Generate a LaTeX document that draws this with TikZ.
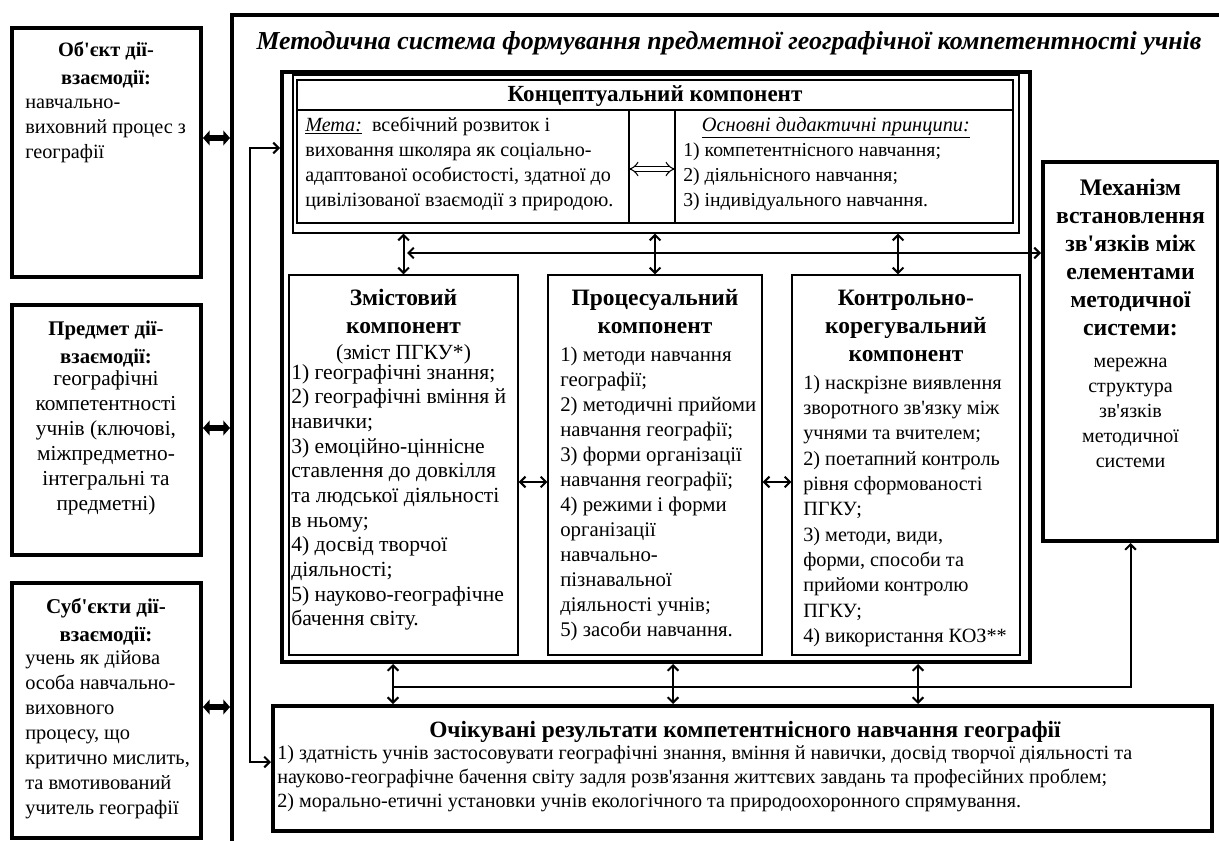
\documentclass[tikz,border=0pt]{standalone}
\usepackage{fontspec}
\setmainfont{Liberation Serif}
\usetikzlibrary{arrows.meta,fit}
\newcommand{\apo}{\textquotesingle}
\begin{document}
\begin{tikzpicture}[x=0.75pt,y=-0.75pt,
  thickbox/.style={draw,line width=3pt,inner sep=0pt},
  thinbox/.style={draw,line width=1pt,inner sep=0pt},
  bodyt/.style={font=\fontsize{#1}{18.75}\selectfont,inner sep=0pt},
  bodyt/.default=15.1,
  headt/.style={font=\fontsize{#1}{21}\selectfont\bfseries,inner sep=0pt},
  headt/.default=17.6,
  titlet/.style={font=\fontsize{19.4}{24}\selectfont\bfseries\itshape,inner sep=0pt},
  conn/.style={line width=1.5pt,{Straight Barb[length=4pt,width=8pt]}-{Straight Barb[length=4pt,width=8pt]}},
  conn1/.style={line width=1.5pt,-{Straight Barb[length=4pt,width=8pt]}},
  fat/.style={line width=5pt,{Triangle[length=5pt,width=11pt]}-{Triangle[length=5pt,width=11pt]}},
  dblarrow/.style={double,double distance=3pt,line width=0.8pt,{Implies}-{Implies}},
]
\useasboundingbox (0,0) rectangle (1219,841);

% outer frame
\draw[line width=3.5pt] (232,841) -- (232,15) -- (1219,15);
\node[titlet,anchor=base] (title) at (729,50) {Методична система формування предметної географічної компетентності учнів};

% left boxes
\node[thickbox,fit={(12,28) (201,277)}] (obj) {};
\node[headt=15.3,anchor=north,align=center] (objh) at (106,37) {\strut Об\apo єкт дії-\\взаємодії:};
\node[bodyt=15.2,anchor=north west,align=left] (objb) at (25,90.5) {\strut навчально-\\виховний процес з\\географії};

\node[thickbox,fit={(12,305) (201,555)}] (sub) {};
\node[headt=15.6,anchor=north,align=center] (subh) at (106,315.5) {\strut Предмет дії-\\взаємодії:};
\node[bodyt=16,anchor=north,align=center] (subb) at (106,367.5) {\strut географічні\\компетентності\\учнів (ключові,\\міжпредметно-\\інтегральні та\\предметні)};

\node[thickbox,fit={(12,583) (201,838)}] (sbj) {};
\node[headt=15.8,anchor=north,align=center] (sbjh) at (106,593.5) {\strut Суб\apo єкти дії-\\взаємодії:};
\node[bodyt=15.3,anchor=north west,align=left] (sbjb) at (25,646.5) {\strut учень як дійова\\особа навчально-\\виховного\\процесу, що\\критично мислить,\\та вмотивований\\учитель географії};

\coordinate (fa1) at (230,138);
\coordinate (fa2) at (230,428);
\coordinate (fa3) at (230,707);
\draw[fat] (obj.east |- fa1) -- (fa1);
\draw[fat] (sub.east |- fa2) -- (fa2);
\draw[fat] (sbj.east |- fa3) -- (fa3);

% inner frame
\node[thickbox,fit={(282,72) (1030,662)}] (ifr) {};
\node[draw,line width=1pt,inner sep=0pt,fit={(293,75) (1019,233)}] (cfr) {};
\node[draw,line width=1pt,inner sep=0pt,fit={(297,80) (1013,223)}] (ctab) {};
\draw[line width=1pt] (ctab.west |- 0,110) -- (ctab.east |- 0,110);
\draw[line width=1pt] (629,110) -- (629,0 |- ctab.south);
\draw[line width=1pt] (675,110) -- (675,0 |- ctab.south);
\node[headt=17.3,anchor=base] (ctitle) at (655,102) {Концептуальний компонент};
\node[bodyt,anchor=north west,align=left] (cgoal) at (305,113.5) {\strut\underline{\textit{Мета:}}\ \ всебічний розвиток і\\виховання школяра як соціально-\\адаптованої особистості, здатної до\\цивілізованої взаємодії з природою.};
\node[bodyt=14.8,anchor=north west,align=left] (cprin) at (683,113.5) {\strut\hspace{14pt}{\fontsize{15.3}{18.75}\selectfont\underline{\textit{Основні дидактичні принципи:}}}\\1) компетентнісного навчання;\\2) діяльнісного навчання;\\3) індивідуального навчання.};
\node[inner sep=0pt,fit={(629,158) (675,180)}] (cmid) {};
\draw[dblarrow] (cmid.west) -- (cmid.east);

% middle boxes
\node[thinbox,fit={(289,275) (518,655)}] (zm) {};
\node[headt,anchor=north,align=center] (zmh) at (403.5,285.4) {\strut Змістовий\\компонент};
\node[bodyt=16.2,anchor=base] (zms) at (403.5,359) {(зміст ПГКУ*)};
\node[bodyt=16.2,anchor=north west,align=left,font=\fontsize{16.2}{18.5}\selectfont] (zmb) at (291,361.5) {\strut 1) географічні знання;\\2) географічні вміння й\\навички;\\3) емоційно-ціннісне\\ставлення до довкілля\\та людської діяльності\\в ньому;\\4) досвід творчої\\діяльності;\\5) науково-географічне\\бачення світу.};

\node[thinbox,fit={(548,275) (762,655)}] (pr) {};
\node[headt,anchor=north,align=center] (prh) at (655,285.4) {\strut Процесуальний\\компонент};
\node[bodyt=15.6,anchor=north west,align=left] (prb) at (560,343.5) {\strut 1) методи навчання\\географії;\\2) методичні прийоми\\навчання географії;\\3) форми організації\\навчання географії;\\4) режими і форми\\організації\\навчально-\\пізнавальної\\діяльності учнів;\\5) засоби навчання.};

\node[thinbox,fit={(792,275) (1020,655)}] (kk) {};
\node[headt,anchor=north,align=center] (kkh) at (906,285.4) {\strut Контрольно-\\корегувальний\\компонент};
\node[bodyt=15.2,anchor=north west,align=left,font=\fontsize{15.2}{19}\selectfont] (kkb) at (803,371) {\strut 1) наскрізне виявлення\\зворотного зв\apo язку між\\учнями та вчителем;\\2) поетапний контроль\\рівня сформованості\\ПГКУ;\\3) методи, види,\\форми, способи та\\прийоми контролю\\ПГКУ;\\4) використання КОЗ**};

% right box
\node[thickbox,fit={(1043,162) (1218,541)}] (mech) {};
\node[headt=17.8,anchor=north,align=center] (mechh) at (1130.5,175.4) {\strut Механізм\\встановлення\\зв\apo язків між\\елементами\\методичної\\системи:};
\node[bodyt=15,anchor=north,align=center] (mechb) at (1130.5,349.5) {\strut мережна\\структура\\зв\apo язків\\методичної\\системи};

% bottom box
\node[thickbox,fit={(273,706) (1212,831)}] (res) {};
\node[headt=17.5,anchor=base] (resh) at (745,737) {Очікувані результати компетентнісного навчання географії};
\node[bodyt=15.1,anchor=north west,align=left,font=\fontsize{15.1}{18}\selectfont] (resb) at (277,742.5) {\strut 1) здатність учнів застосовувати географічні знання, вміння й навички, досвід творчої діяльності та\\науково-географічне бачення світу задля розв\apo язання життєвих завдань та професійних проблем;\\2) морально-етичні установки учнів екологічного та природоохоронного спрямування.};

% connectors top
\coordinate (ax3) at (898,0);
\draw[conn] (zm.north |- cfr.south) -- (zm.north);
\draw[conn] (pr.north |- cfr.south) -- (pr.north);
\draw[conn] (ax3 |- cfr.south) -- (ax3 |- kk.north);
\coordinate (hl) at (407,253);
\draw[conn] (hl) -- (hl -| mech.west);

% connectors middle
\coordinate (hy) at (0,482);
\draw[conn] (zm.east |- hy) -- (pr.west |- hy);
\draw[conn] (pr.east |- hy) -- (kk.west |- hy);

% connectors bottom
\coordinate (bx1) at (393,0);
\coordinate (bx2) at (673,0);
\coordinate (bx3) at (918,0);
\draw[conn] (bx1 |- ifr.south) -- (bx1 |- res.north);
\draw[conn] (bx2 |- ifr.south) -- (bx2 |- res.north);
\draw[conn] (bx3 |- ifr.south) -- (bx3 |- res.north);
\coordinate (bj) at (393,687);
\draw[conn1] (bj) -| (mech.south);

% left loop
\coordinate (lt) at (250,148);
\coordinate (lb) at (250,762);
\draw[conn] (lt -| ifr.west) -- (lt) -- (lb) -- (lb -| res.west);
\end{tikzpicture}
\end{document}
